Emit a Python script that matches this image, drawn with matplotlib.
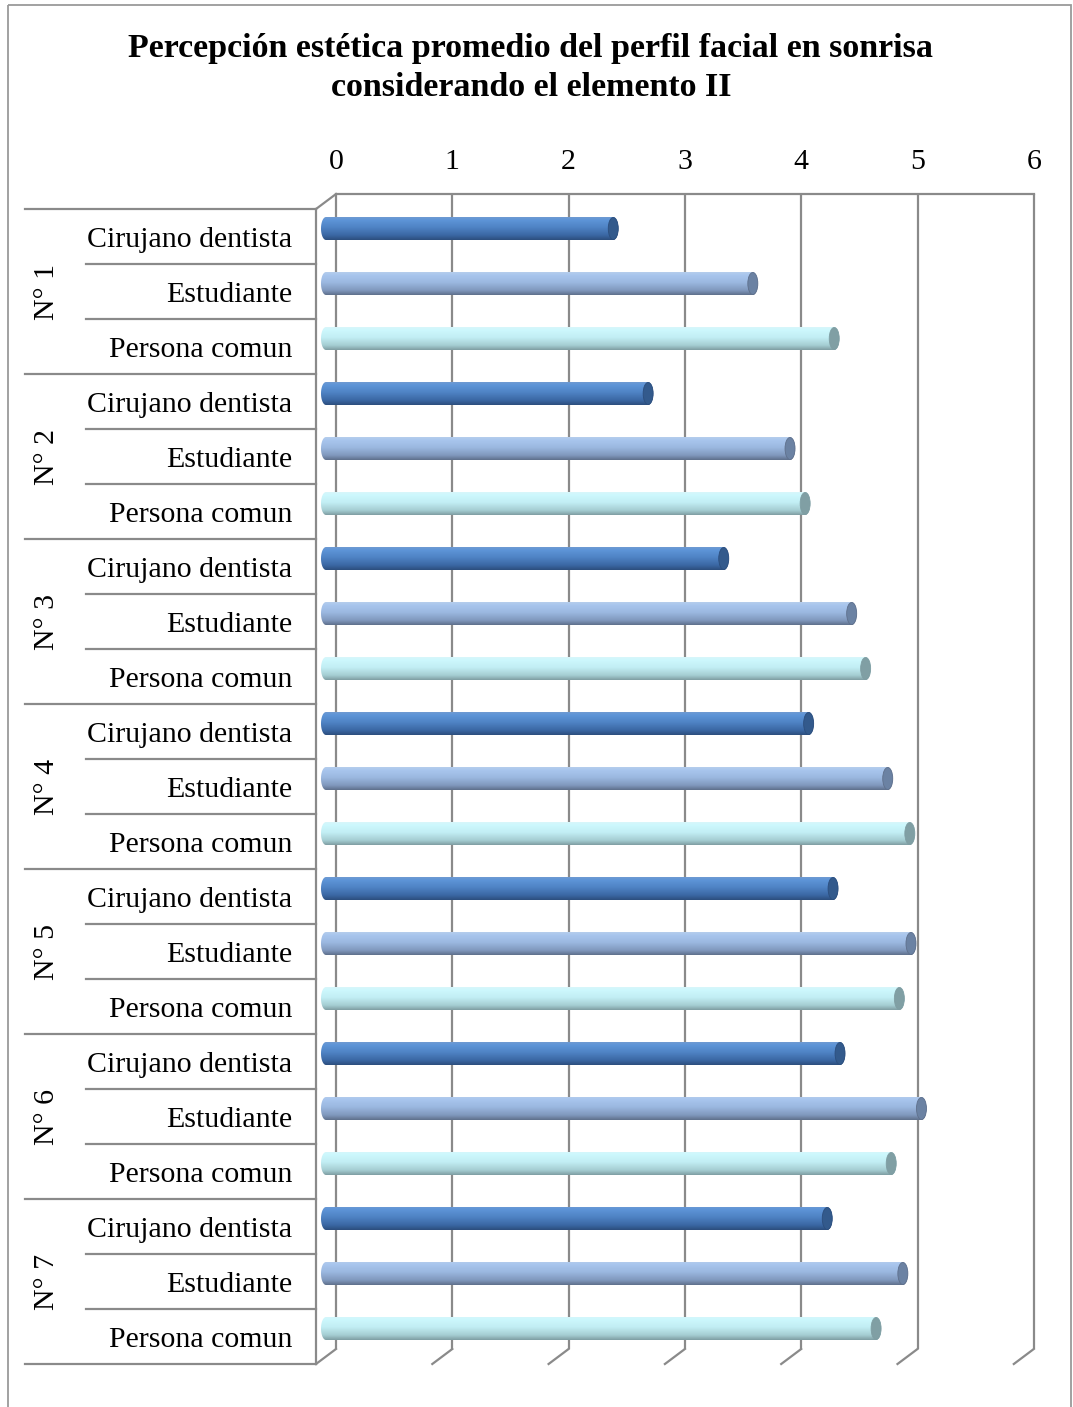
import numpy as np
import matplotlib.pyplot as plt
from matplotlib.patches import Polygon, Ellipse, Rectangle
from matplotlib.colors import to_rgb

plt.rcParams["font.family"] = ["Liberation Serif", "DejaVu Serif"]

# ---------------------------------------------------------------------------
# Data
# ---------------------------------------------------------------------------
TITLE = ("Percepción estética promedio del perfil facial en sonrisa\n"
         "considerando el elemento II")
groups = ["N° 1", "N° 2", "N° 3", "N° 4", "N° 5", "N° 6", "N° 7"]
evaluators = ["Cirujano dentista", "Estudiante", "Persona comun"]

cirujano = [2.47, 2.77, 3.42, 4.15, 4.36, 4.42, 4.31]
estudiante = [3.67, 3.99, 4.52, 4.83, 5.03, 5.12, 4.96]
persona = [4.37, 4.12, 4.64, 5.02, 4.93, 4.86, 4.73]

x_ticks = [0, 1, 2, 3, 4, 5, 6]

# ---------------------------------------------------------------------------
# Style / geometry of the pseudo-3D frame
# ---------------------------------------------------------------------------
W, H = 1073, 1407
PX_UNIT = 116.3        # px per value unit
PX_ROW = 55.0          # px per category row
X0_PX, Y0_PX = 316, 209  # front plane origin (value 0, top row edge)

BACK_DX = 20 / PX_UNIT     # depth offset of the back wall
BACK_DY = -15 / PX_ROW
MID_DX = 10 / PX_UNIT      # bars sit in the middle of the depth
BAR_OFF = -8 / PX_ROW      # bar centre relative to row centre
BAR_H = 23 / PX_ROW
CAP_W = 10 / PX_UNIT

GRID = "#8a8a8a"
LABEL_FS = 21.5
TEXT_DY = 3 / PX_ROW
SERIES = [
    # top, light band, middle, lower, bottom, end cap
    ["#6f9ad2", "#5e95d8", "#4f83c4", "#3a67a3", "#2c4e7d", "#335a8c"],
    ["#b5cdec", "#a9c6ee", "#9bb8e0", "#8098bd", "#5f708c", "#6b82a3"],
    ["#d8f6fa", "#cdf8fd", "#c2eef4", "#a5cdd2", "#7f9ea3", "#809fa4"],
]

fig = plt.figure(figsize=(W / 100, H / 100), dpi=100)
ax = fig.add_axes([0, 0, 1, 1])
ax.set_xlim(-X0_PX / PX_UNIT, (W - X0_PX) / PX_UNIT)
ax.set_ylim((H - Y0_PX) / PX_ROW, -Y0_PX / PX_ROW)
ax.axis("off")

n_rows = len(groups) * len(evaluators)
xmax = x_ticks[-1]

# outer chart border
ax.add_patch(Rectangle((-308 / PX_UNIT, -204 / PX_ROW),
                       (1071 - 8) / PX_UNIT, 1420 / PX_ROW,
                       fill=False, ec="#9a9a9a", lw=1.3, clip_on=False))

# back wall gridlines + floor slants
for t in x_ticks:
    xb = t + BACK_DX
    ax.plot([xb, xb], [BACK_DY, n_rows + BACK_DY], color=GRID, lw=1.6,
            solid_capstyle="butt", zorder=1)
    ax.plot([xb, t], [n_rows + BACK_DY, n_rows], color=GRID, lw=1.6, zorder=1)
    ax.text(xb, (162 - Y0_PX) / PX_ROW, str(t), ha="center", va="center",
            fontsize=LABEL_FS)
ax.plot([BACK_DX, xmax + BACK_DX], [BACK_DY, BACK_DY], color=GRID, lw=1.6, zorder=1)
ax.plot([BACK_DX, 0], [BACK_DY, 0], color=GRID, lw=1.6, zorder=1)

# front left wall and the category table
ax.plot([0, 0], [0, n_rows], color=GRID, lw=1.6, zorder=1)
x_grp = -291 / PX_UNIT
x_sub = -230 / PX_UNIT
for r in range(n_rows + 1):
    left = x_grp if r % 3 == 0 else x_sub
    ax.plot([left, 0], [r, r], color=GRID, lw=1.6, zorder=1)

for g, name in enumerate(groups):
    ax.text(-269 / PX_UNIT, 3 * g + 1.5, name, rotation=90, ha="center",
            va="center", fontsize=LABEL_FS)
    for k, ev in enumerate(evaluators):
        ax.text(-24 / PX_UNIT, 3 * g + k + 0.5 + TEXT_DY, ev, ha="right",
                va="center", fontsize=LABEL_FS)


def cylinder(y, value, cols):
    """Horizontal shaded cylinder from 0 to value centred on row y."""
    x0 = MID_DX
    x1 = MID_DX + value
    half = BAR_H / 2
    stops = np.array([0.0, 0.12, 0.45, 0.8, 1.0])
    rgb = np.array([to_rgb(c) for c in cols[:5]])
    tt = np.linspace(0, 1, 64)
    grad = np.stack([np.interp(tt, stops, rgb[:, i]) for i in range(3)], axis=-1)
    img = ax.imshow(grad[:, None, :], extent=[x0 - CAP_W / 2, x1 + CAP_W / 2,
                                              y + half, y - half],
                    aspect="auto", interpolation="bilinear", zorder=3)
    a = np.linspace(np.pi / 2, 3 * np.pi / 2, 30)
    left = np.column_stack([x0 + CAP_W / 2 * np.cos(a), y - half * np.sin(a)])
    b = np.linspace(-np.pi / 2, np.pi / 2, 30)
    right = np.column_stack([x1 + CAP_W / 2 * np.cos(b), y - half * np.sin(b)])
    outline = Polygon(np.vstack([left, right]), closed=True,
                      transform=ax.transData, fc="none", ec="none")
    ax.add_patch(outline)
    img.set_clip_path(outline)
    ax.add_patch(Ellipse((x1, y), CAP_W, BAR_H * 0.96, fc=cols[5],
                         ec=cols[4], lw=0.6, zorder=4))


series = [cirujano, estudiante, persona]
for g in range(len(groups)):
    for k in range(len(evaluators)):
        row = 3 * g + k
        cylinder(row + 0.5 + BAR_OFF, series[k][g], SERIES[k])

ax.text((531 - X0_PX) / PX_UNIT, (68 - Y0_PX) / PX_ROW, TITLE, ha="center",
        va="center", fontsize=24.5, fontweight="bold", linespacing=1.32)

fig.savefig("out.png", dpi=100)
